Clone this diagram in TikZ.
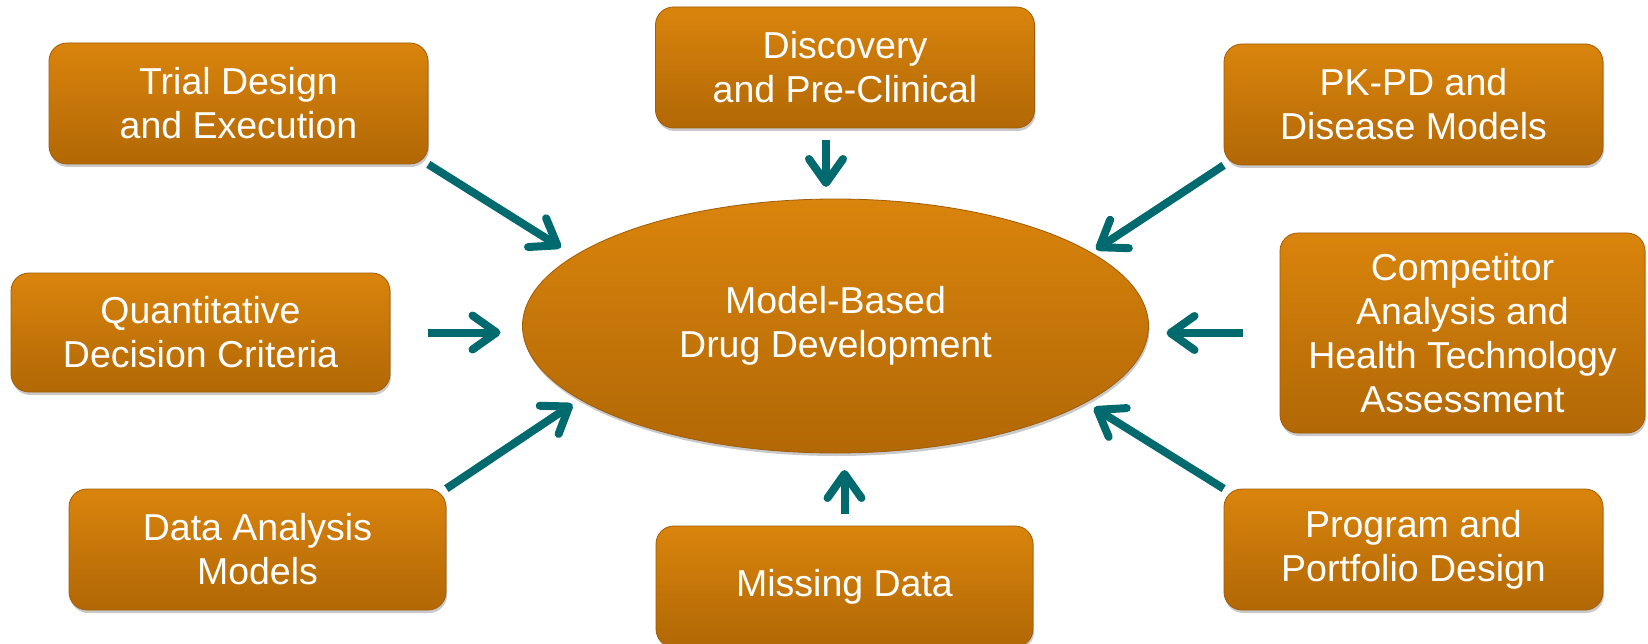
\documentclass[tikz,border=0pt]{standalone}
\usepackage{fontspec}
\setmainfont{Liberation Sans}
\usetikzlibrary{arrows.meta,shapes.geometric,shadows}

\definecolor{jingga}{HTML}{D9840C}
\definecolor{jinggatua}{HTML}{B26806}
\definecolor{tepi}{HTML}{A05C06}
\definecolor{teal}{HTML}{006A6E}

\begin{document}
\begin{tikzpicture}[x=1pt,y=-1pt,
      tile/.style={rounded corners=18pt,top color=jingga,bottom color=jinggatua,
        draw=tepi,line width=0.8pt,text=white,align=center,inner sep=0pt,
        minimum width=379pt,minimum height=121pt,
        font=\fontsize{37.5}{44}\selectfont,
        drop shadow={shadow xshift=1pt,shadow yshift=-3pt,opacity=.3,fill=black!70}},
      hub/.style={ellipse,top color=jingga,bottom color=jinggatua,draw=tepi,
        line width=0.8pt,text=white,align=center,inner sep=0pt,outer sep=0pt,
        minimum width=626pt,minimum height=254pt,
        font=\fontsize{37.5}{44}\selectfont,
        drop shadow={shadow xshift=1pt,shadow yshift=-3pt,opacity=.3,fill=black!70}},
      feed/.style={draw=teal,line width=8pt,
        -{Straight Barb[round,length=24pt,width=34pt]}}]

    \useasboundingbox (0,0) rectangle (1648,644);

    % --- centre --------------------------------------------------------------
    \node[hub] (mbdd) at (835.5,326) {Model-Based\\Drug Development};

    % --- top row ---------------------------------------------------------------
    \node[tile] (trial) at (238.5,103.5) {Trial Design\\and Execution};
    \node[tile] (discovery) at (845,67.5) {Discovery\\and Pre-Clinical};
    \node[tile] (pkpd) at (1413.5,104.5) {PK-PD and\\Disease Models};

    % --- middle row ------------------------------------------------------------
    \node[tile,minimum height=119pt] (quant) at (200.5,332.5)
      {Quantitative\\Decision Criteria};
    \node[tile,minimum width=365pt,minimum height=200pt] (competitor)
      at (1462.5,333)
      {Competitor\\Analysis and\\Health Technology\\Assessment};

    % --- bottom row ------------------------------------------------------------
    \node[tile,minimum width=377pt] (dataan) at (257.5,549.5)
      {Data Analysis\\Models};
    \node[tile,minimum width=377pt] (missing) at (844.5,586.5) {Missing Data};
    \node[tile] (program) at (1413.5,549.5) {Program and\\Portfolio Design};

    % --- arrows into the centre ----------------------------------------------
    \draw[feed,shorten >=16pt] (trial.south east) -- (mbdd.165);
    \draw[feed,shorten <=12pt,shorten >=12pt]
      ([xshift=-19pt]discovery.south) -- ([xshift=-19pt]discovery.south |- mbdd.north);
    \draw[feed,shorten >=6pt] (pkpd.south west) -- (mbdd.16.8);
    \draw[feed,shorten <=38pt,shorten >=22pt] (quant.east) -- (quant.east -| mbdd.west);
    \draw[feed,shorten <=37pt,shorten >=18pt]
      (competitor.west) -- (competitor.west -| mbdd.east);
    \draw[feed,shorten >=9pt] (dataan.north east) -- (mbdd.196.6);
    \draw[feed,shorten <=12pt,shorten >=17pt] (missing.north) -- (missing.north |- mbdd.south);
    \draw[feed,shorten >=10pt] (program.north west) -- (mbdd.343);
  \end{tikzpicture}
\end{document}
